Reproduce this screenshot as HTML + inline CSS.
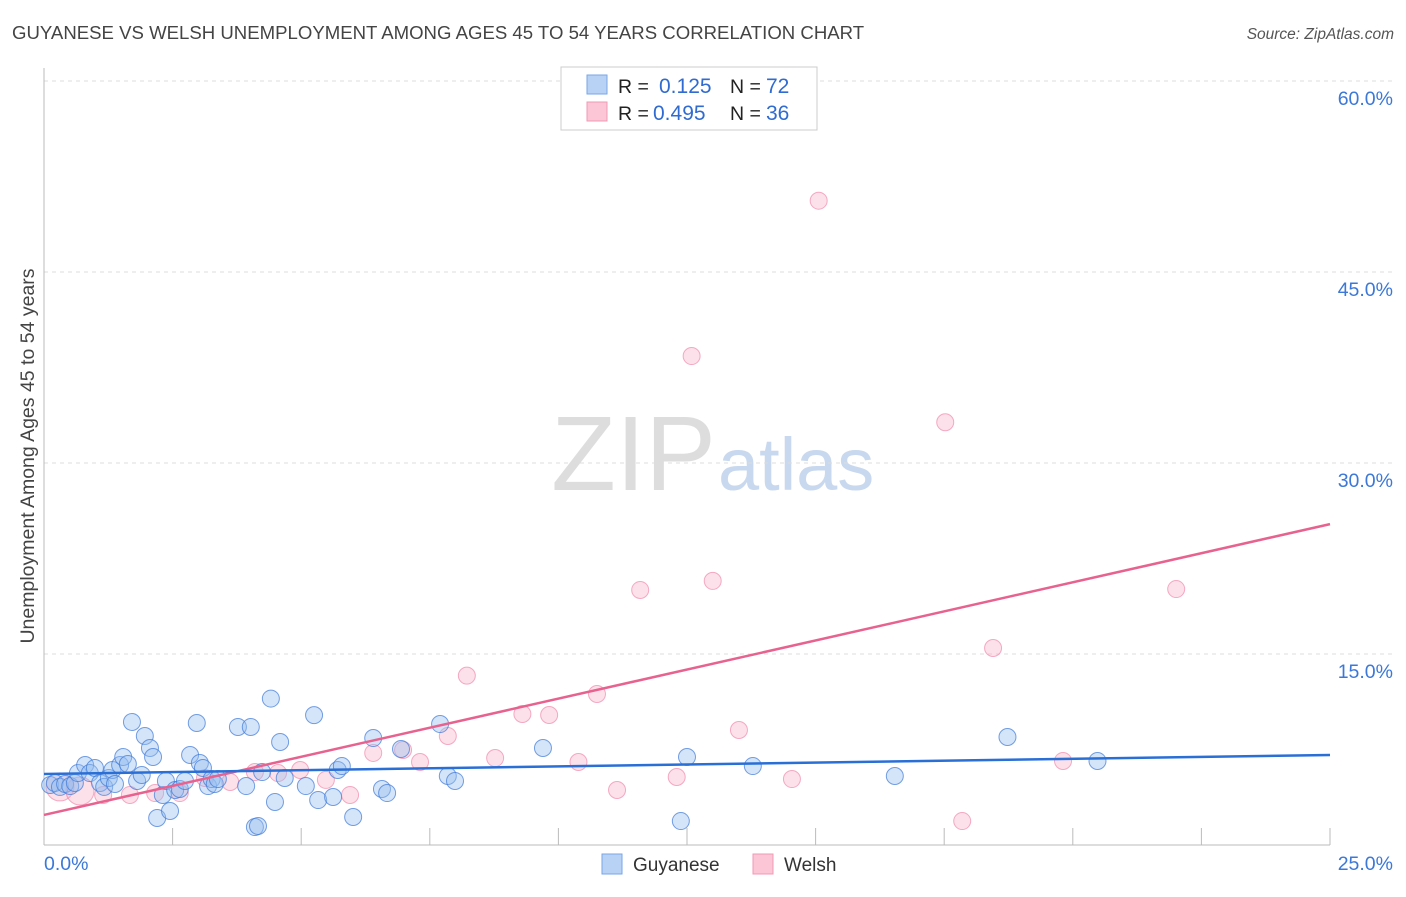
<!DOCTYPE html>
<html><head><meta charset="utf-8"><style>
body{margin:0;background:#fff;font-family:"Liberation Sans",sans-serif}
svg text{font-family:"Liberation Sans",sans-serif}
</style></head><body>
<svg id="chart" width="1406" height="892" xmlns="http://www.w3.org/2000/svg">
<text x="12" y="39" font-size="18.6" fill="#444">GUYANESE VS WELSH UNEMPLOYMENT AMONG AGES 45 TO 54 YEARS CORRELATION CHART</text>
<text x="1394" y="39" font-size="15.5" fill="#555" font-style="italic" text-anchor="end">Source: ZipAtlas.com</text>
<text x="716" y="490" font-size="106" text-anchor="end" fill="#ddd" font-family="Liberation Serif">ZIP</text>
<text x="718" y="490" font-size="74" fill="#c8d8ee">atlas</text>
<text transform="translate(34,456) rotate(-90)" font-size="19.5" fill="#444" text-anchor="middle">Unemployment Among Ages 45 to 54 years</text>
<g id="grid"></g><g id="pts"></g><g id="lines"></g>
<g>
<rect x="561" y="67" width="256" height="63" fill="#fff" stroke="#ccc"/>
<rect x="587" y="75" width="20" height="19" fill="#b8d2f5" stroke="#7aa6e6"/>
<rect x="587" y="102" width="20" height="19" fill="#fcc6d6" stroke="#f09ab4"/>
<text x="618" y="93" font-size="19.5" fill="#222">R = </text><text x="659" y="93" font-size="21" fill="#2f6bd0">0.125</text>
<text x="730" y="93" font-size="19.5" fill="#222">N = </text><text x="766" y="93" font-size="21" fill="#2f6bd0">72</text>
<text x="618" y="120" font-size="19.5" fill="#222">R = </text><text x="653" y="120" font-size="21" fill="#2f6bd0">0.495</text>
<text x="730" y="120" font-size="19.5" fill="#222">N = </text><text x="766" y="120" font-size="21" fill="#2f6bd0">36</text>
</g>
<g>
<rect x="602" y="854" width="20" height="20" fill="#b8d2f5" stroke="#7aa6e6"/>
<text x="633" y="871" font-size="19" fill="#333">Guyanese</text>
<rect x="753" y="854" width="20" height="20" fill="#fcc6d6" stroke="#f09ab4"/>
<text x="784" y="871" font-size="19" fill="#333">Welsh</text>
</g>
</svg>
<script>
const xTicks=[0,2.5,5,7.5,10,12.5,15,17.5,20,22.5,25];
const yTicks=[15,30,45,60];
const yTickLabels=["15.0%","30.0%","45.0%","60.0%"];
const guyX=[0.12,0.21,0.31,0.41,0.51,0.6,0.66,0.8,0.89,0.99,1.09,1.17,1.26,1.33,1.38,1.48,1.54,1.63,1.71,1.81,1.9,1.96,2.06,2.12,2.2,2.31,2.37,2.45,2.55,2.64,2.74,2.84,2.97,3.03,3.09,3.19,3.26,3.32,3.38,3.77,3.93,4.02,4.1,4.16,4.24,4.41,4.49,4.59,4.68,5.09,5.25,5.33,5.62,5.71,5.79,6.01,6.4,6.57,6.67,6.94,7.7,7.85,7.99,9.7,12.38,12.5,13.78,16.54,18.73,20.48];
const guyY=[4.71,4.87,4.56,4.79,4.63,4.87,5.65,6.28,5.65,6.05,4.87,4.56,5.26,5.89,4.79,6.28,6.91,6.36,9.66,5.03,5.5,8.56,7.62,6.91,2.12,3.93,5.03,2.67,4.32,4.4,5.03,7.07,9.58,6.44,6.05,4.63,5.18,4.79,5.18,9.27,4.63,9.27,1.41,1.49,5.73,11.5,3.38,8.09,5.26,4.63,10.2,3.53,3.77,5.89,6.2,2.2,8.4,4.4,4.08,7.54,9.5,5.42,5.03,7.62,1.88,6.91,6.2,5.42,8.48,6.6];
const welX=[0.31,0.7,1.15,1.67,2.16,2.64,3.13,3.62,4.1,4.55,4.98,5.48,5.95,6.4,6.98,7.31,7.85,8.22,8.77,9.3,9.82,10.39,10.75,11.14,11.59,12.3,12.59,13.0,13.51,14.54,15.06,17.52,17.85,18.45,19.81,22.01];
const welY=[4.56,4.24,3.93,3.93,4.08,4.08,5.26,4.95,5.73,5.65,5.89,5.11,3.93,7.23,7.46,6.52,8.56,13.3,6.83,10.29,10.21,6.52,11.86,4.32,20.03,5.34,38.4,20.74,9.03,5.18,50.6,33.2,1.88,15.47,6.6,20.1];
const guyLine=[5.58,7.07];
const welLine=[2.36,25.2];
const NS="http://www.w3.org/2000/svg";
const X=v=>44+v/25*1286, Y=v=>845-v/15*191;
function mk(t,a,p){const e=document.createElementNS(NS,t);for(const k in a)e.setAttribute(k,a[k]);document.getElementById(p).appendChild(e);return e;}
yTicks.forEach((t,i)=>{
 const g=mk('line',{x1:44,x2:1394,y1:Y(t),y2:Y(t),stroke:'#ddd','stroke-dasharray':'4,4'},'grid');
 
 
 const l=mk('text',{x:1393,y:Y(t)+24,'font-size':19.5,fill:'#3b78d8','text-anchor':'end'},'grid');l.textContent=yTickLabels[i];
 
 
});
const ax=mk('line',{x1:44,x2:44,y1:68,y2:845,stroke:'#bbb'},'grid');


const bx=mk('line',{x1:44,x2:1330,y1:845,y2:845,stroke:'#bbb'},'grid');


xTicks.forEach(t=>{const e=mk('line',{x1:X(t),x2:X(t),y1:828,y2:845,stroke:'#bbb'},'grid');
 
 });
const x0=mk('text',{x:44,y:870,'font-size':19.5,fill:'#3b78d8'},'grid');x0.textContent=xTicks[0].toFixed(1)+'%';


const x1=mk('text',{x:1393,y:870,'font-size':19.5,fill:'#3b78d8','text-anchor':'end'},'grid');x1.textContent=xTicks[10].toFixed(1)+'%';


welX.forEach((v,i)=>{const c=mk('circle',{cx:X(v),cy:Y(welY[i]),r:i<2?14:8.5,fill:'rgba(248,170,196,0.35)',stroke:'rgba(236,120,160,0.6)','stroke-width':1},'pts');
 
 });
guyX.forEach((v,i)=>{const c=mk('circle',{cx:X(v),cy:Y(guyY[i]),r:8.5,fill:'rgba(150,190,240,0.4)',stroke:'rgba(60,120,215,0.7)','stroke-width':1},'pts');
 
 });
const pl=mk('line',{x1:X(0),y1:Y(welLine[0]),x2:X(25),y2:Y(welLine[1]),stroke:'#e8628f','stroke-width':2.5},'lines');


const bl=mk('line',{x1:X(0),y1:Y(guyLine[0]),x2:X(25),y2:Y(guyLine[1]),stroke:'#2a6fd6','stroke-width':2.5},'lines');


</script>
</body></html>
